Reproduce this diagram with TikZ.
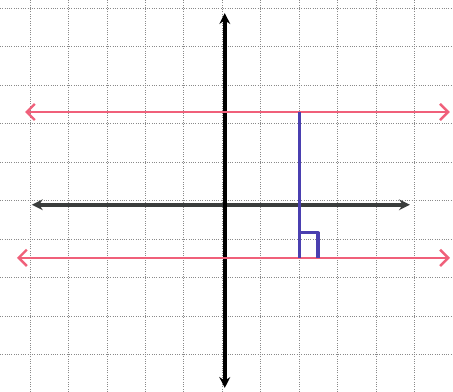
\documentclass[tikz,border=0pt]{standalone}
\usepackage{tikz}
\usetikzlibrary{arrows.meta}
\definecolor{GridGray}{HTML}{8A8A8A}
\definecolor{AxisDark}{HTML}{3A3D3C}
\definecolor{LinePink}{HTML}{F0607A}
\definecolor{SegBlue}{HTML}{4A3FB0}

\begin{document}
\begin{tikzpicture}[
  gridline/.style={GridGray,densely dotted,line width=0.7pt},
  axis/.style={{Stealth[length=8pt,width=8pt]}-{Stealth[length=8pt,width=8pt]},line width=2.6pt},
  pinkline/.style={{Straight Barb[length=6pt,width=12pt]}-{Straight Barb[length=6pt,width=12pt]},
                   LinePink,line width=1.8pt},
  perp/.style={SegBlue,line width=2.4pt,line join=round}]
\fill[white] (-5.78,-4.96) rectangle (5.99,5.22);
\useasboundingbox (-5.78,-4.96) rectangle (5.99,5.22);
% grid paper
\draw[gridline] (-5.78,-4.96) grid (5.99,5.22);
% axes
\coordinate (ytop) at (0.06,4.88);
\coordinate (ybot) at (0.06,-4.86);
\coordinate (xleft) at (-4.95,-0.1);
\coordinate (xright) at (4.87,-0.1);
\draw[axis,AxisDark] (xleft) -- (xright);
\draw[axis,black] (ybot) -- (ytop);
% parallel lines
\coordinate (p1l) at (-5.13,2.31);
\coordinate (p1r) at (5.91,2.31);
\coordinate (p2l) at (-5.34,-1.48);
\coordinate (p2r) at (5.91,-1.48);
\draw[pinkline] (p1l) -- (p1r);
\draw[pinkline] (p2l) -- (p2r);
% perpendicular segment
\coordinate (s1) at (2.01,2.31);
\coordinate (s2) at (2.01,-1.48);
\draw[perp] (s1) -- (s2);
\draw[perp] (2.01,-0.83) -- (2.48,-0.83) -- (2.48,-1.48);
\end{tikzpicture}
\end{document}
